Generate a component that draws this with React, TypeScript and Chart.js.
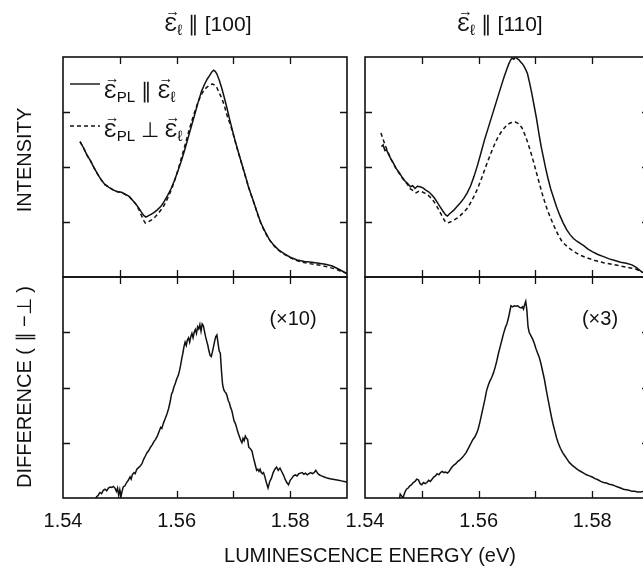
import React, { useEffect, useRef } from 'react';
import { Chart, registerables } from 'chart.js';

Chart.register(...registerables);

// ---------- axis ranges and ticks ----------
const X_MIN = 1.54;
const X_MAX = 1.59;
const Y_MIN = 0;
const Y_MAX = 4;
const xTickValues = [1.55, 1.56, 1.57, 1.58];
const xLabelValues = [1.54, 1.56, 1.58];
const xTickLabels = ['1.54', '1.56', '1.58'];
const yTickValues = [1, 2, 3];

// ---------- top-left: E_l || [100], intensity ----------
const tlParX = [1.5430,1.5436,1.5442,1.5448,1.5455,1.5461,1.5467,1.5474,1.5481,1.5489,1.5496,1.5503,1.5510,1.5516,1.5522,1.5528,1.5533,1.5538,1.5542,1.5546,1.5550,1.5555,1.5560,1.5566,1.5572,1.5578,1.5584,1.5590,1.5596,1.5602,1.5608,1.5614,1.5620,1.5626,1.5632,1.5638,1.5644,1.5649,1.5654,1.5658,1.5662,1.5665,1.5668,1.5671,1.5675,1.5679,1.5683,1.5688,1.5693,1.5698,1.5703,1.5709,1.5715,1.5721,1.5727,1.5734,1.5741,1.5748,1.5756,1.5764,1.5772,1.5780,1.5790,1.5800,1.5812,1.5825,1.5838,1.5850,1.5862,1.5874,1.5884,1.5893,1.5900];
const tlParY = [2.46,2.35,2.22,2.12,1.98,1.87,1.77,1.68,1.63,1.58,1.55,1.54,1.50,1.47,1.40,1.33,1.26,1.18,1.12,1.09,1.11,1.14,1.17,1.22,1.28,1.37,1.48,1.60,1.75,1.92,2.10,2.30,2.52,2.74,2.96,3.18,3.38,3.50,3.60,3.66,3.73,3.76,3.74,3.69,3.58,3.45,3.30,3.10,2.88,2.68,2.48,2.26,2.05,1.84,1.62,1.42,1.20,0.99,0.82,0.67,0.57,0.49,0.42,0.36,0.31,0.28,0.27,0.25,0.23,0.20,0.15,0.10,0.06];
const tlPerpX = [1.5430,1.5436,1.5442,1.5448,1.5455,1.5461,1.5467,1.5474,1.5481,1.5489,1.5496,1.5503,1.5510,1.5516,1.5522,1.5528,1.5533,1.5538,1.5542,1.5545,1.5550,1.5556,1.5562,1.5568,1.5574,1.5580,1.5586,1.5592,1.5598,1.5604,1.5610,1.5616,1.5622,1.5628,1.5634,1.5640,1.5646,1.5652,1.5658,1.5663,1.5667,1.5671,1.5675,1.5680,1.5685,1.5690,1.5695,1.5700,1.5706,1.5712,1.5718,1.5724,1.5731,1.5738,1.5745,1.5752,1.5760,1.5768,1.5776,1.5785,1.5795,1.5806,1.5818,1.5830,1.5842,1.5855,1.5867,1.5878,1.5888,1.5896,1.5900];
const tlPerpY = [2.46,2.35,2.22,2.12,1.98,1.87,1.77,1.68,1.63,1.58,1.55,1.54,1.50,1.47,1.40,1.33,1.24,1.12,1.03,0.98,1.00,1.04,1.09,1.16,1.24,1.34,1.47,1.62,1.80,2.00,2.22,2.44,2.67,2.88,3.07,3.24,3.36,3.44,3.49,3.51,3.49,3.44,3.35,3.24,3.08,2.90,2.76,2.58,2.36,2.15,1.94,1.73,1.50,1.29,1.07,0.89,0.73,0.61,0.52,0.44,0.38,0.32,0.28,0.25,0.23,0.21,0.18,0.15,0.11,0.08,0.06];

// ---------- top-right: E_l || [110], intensity ----------
const trParX = [1.5429,1.5432,1.5435,1.5438,1.5442,1.5446,1.5450,1.5455,1.5460,1.5465,1.5470,1.5475,1.5480,1.5484,1.5488,1.5492,1.5497,1.5502,1.5507,1.5512,1.5517,1.5522,1.5527,1.5532,1.5537,1.5542,1.5545,1.5550,1.5556,1.5562,1.5568,1.5574,1.5580,1.5586,1.5592,1.5598,1.5604,1.5610,1.5616,1.5622,1.5628,1.5634,1.5640,1.5645,1.5649,1.5653,1.5656,1.5659,1.5662,1.5665,1.5668,1.5671,1.5674,1.5677,1.5680,1.5683,1.5686,1.5690,1.5694,1.5698,1.5702,1.5706,1.5710,1.5714,1.5718,1.5722,1.5727,1.5732,1.5737,1.5743,1.5749,1.5755,1.5761,1.5767,1.5773,1.5779,1.5785,1.5792,1.5800,1.5810,1.5820,1.5830,1.5840,1.5850,1.5860,1.5870,1.5878,1.5885,1.5889];
const trParY = [2.37,2.40,2.30,2.31,2.22,2.14,2.07,1.97,1.90,1.82,1.75,1.70,1.64,1.66,1.61,1.65,1.64,1.62,1.58,1.55,1.50,1.44,1.36,1.28,1.20,1.13,1.11,1.16,1.21,1.28,1.35,1.43,1.53,1.66,1.83,2.03,2.25,2.48,2.68,2.88,3.08,3.28,3.48,3.64,3.76,3.87,3.94,3.98,3.96,4.00,3.97,3.95,3.91,3.88,3.83,3.77,3.70,3.52,3.32,3.10,2.88,2.62,2.38,2.18,1.98,1.80,1.60,1.44,1.28,1.12,0.98,0.86,0.77,0.70,0.65,0.61,0.57,0.51,0.46,0.41,0.37,0.33,0.30,0.27,0.25,0.22,0.17,0.11,0.08];
const trPerpX = [1.5428,1.5432,1.5436,1.5440,1.5445,1.5450,1.5455,1.5460,1.5465,1.5470,1.5475,1.5480,1.5485,1.5490,1.5495,1.5500,1.5506,1.5512,1.5518,1.5524,1.5530,1.5536,1.5541,1.5545,1.5550,1.5556,1.5562,1.5568,1.5574,1.5580,1.5586,1.5592,1.5598,1.5604,1.5610,1.5616,1.5622,1.5628,1.5634,1.5640,1.5646,1.5652,1.5658,1.5664,1.5670,1.5676,1.5681,1.5686,1.5691,1.5696,1.5701,1.5706,1.5711,1.5716,1.5721,1.5726,1.5731,1.5736,1.5741,1.5746,1.5752,1.5760,1.5768,1.5778,1.5790,1.5805,1.5820,1.5835,1.5850,1.5865,1.5878,1.5889];
const trPerpY = [2.62,2.50,2.38,2.28,2.16,2.06,1.96,1.89,1.81,1.74,1.68,1.60,1.57,1.53,1.56,1.55,1.52,1.48,1.42,1.33,1.22,1.10,1.01,0.98,1.00,1.03,1.07,1.12,1.18,1.25,1.35,1.47,1.60,1.76,1.93,2.10,2.26,2.41,2.54,2.64,2.72,2.78,2.81,2.82,2.79,2.72,2.60,2.46,2.30,2.12,1.93,1.74,1.55,1.38,1.22,1.09,0.97,0.85,0.75,0.66,0.59,0.52,0.46,0.40,0.35,0.30,0.26,0.23,0.20,0.17,0.14,0.08];

// ---------- bottom-left: difference (x10) ----------
const blDiffX = [1.5456,1.5459,1.5462,1.5465,1.5468,1.5471,1.5474,1.5477,1.5480,1.5483,1.5486,1.5489,1.5492,1.5494,1.5496,1.5498,1.5500,1.5502,1.5504,1.5506,1.5509,1.5512,1.5515,1.5518,1.5520,1.5522,1.5525,1.5527,1.5530,1.5533,1.5536,1.5539,1.5542,1.5545,1.5548,1.5551,1.5554,1.5557,1.5560,1.5563,1.5566,1.5569,1.5572,1.5574,1.5577,1.5580,1.5583,1.5586,1.5589,1.5591,1.5593,1.5595,1.5598,1.5600,1.5603,1.5605,1.5607,1.5609,1.5611,1.5613,1.5615,1.5617,1.5619,1.5621,1.5623,1.5625,1.5627,1.5629,1.5631,1.5633,1.5635,1.5637,1.5639,1.5641,1.5643,1.5645,1.5647,1.5649,1.5651,1.5653,1.5655,1.5657,1.5659,1.5661,1.5663,1.5665,1.5667,1.5669,1.5671,1.5673,1.5675,1.5677,1.5679,1.5681,1.5683,1.5685,1.5687,1.5689,1.5691,1.5693,1.5695,1.5697,1.5699,1.5701,1.5703,1.5705,1.5707,1.5709,1.5711,1.5713,1.5715,1.5717,1.5719,1.5721,1.5723,1.5725,1.5727,1.5729,1.5731,1.5733,1.5735,1.5737,1.5739,1.5741,1.5743,1.5745,1.5747,1.5749,1.5751,1.5753,1.5755,1.5758,1.5761,1.5764,1.5767,1.5770,1.5773,1.5776,1.5779,1.5782,1.5785,1.5788,1.5791,1.5794,1.5797,1.5800,1.5803,1.5806,1.5809,1.5812,1.5815,1.5818,1.5821,1.5824,1.5827,1.5830,1.5833,1.5836,1.5839,1.5842,1.5845,1.5848,1.5851,1.5855,1.5860,1.5865,1.5870,1.5875,1.5880,1.5885,1.5890,1.5895,1.5900];
const blDiffY = [-0.05,0.02,0.05,0.10,0.08,0.14,0.16,0.13,0.18,0.20,0.19,0.21,0.17,0.12,0.18,0.05,0.15,0.02,0.12,0.20,0.22,0.28,0.32,0.38,0.34,0.42,0.46,0.44,0.52,0.55,0.58,0.62,0.70,0.76,0.82,0.86,0.92,0.96,1.02,1.06,1.12,1.20,1.28,1.26,1.36,1.44,1.52,1.62,1.76,1.88,1.92,2.00,2.08,2.15,2.22,2.30,2.40,2.52,2.62,2.74,2.82,2.76,2.86,2.90,2.82,2.92,2.98,2.90,3.00,3.05,2.98,3.10,3.06,3.14,3.02,3.15,3.12,3.02,2.92,2.84,2.76,2.66,2.58,2.56,2.64,2.74,2.84,2.92,2.95,2.80,2.66,2.62,2.30,2.05,1.96,1.92,1.90,1.84,1.76,1.72,1.64,1.59,1.50,1.40,1.36,1.30,1.22,1.16,1.10,1.04,1.00,1.08,1.04,1.12,1.08,1.06,0.92,0.90,0.88,0.84,0.74,0.66,0.58,0.50,0.52,0.48,0.52,0.46,0.44,0.46,0.40,0.28,0.18,0.30,0.36,0.46,0.52,0.56,0.50,0.54,0.48,0.42,0.34,0.28,0.24,0.32,0.36,0.40,0.42,0.40,0.44,0.45,0.46,0.43,0.45,0.42,0.44,0.46,0.44,0.46,0.50,0.45,0.42,0.40,0.38,0.36,0.35,0.34,0.33,0.32,0.31,0.30,0.29];

// ---------- bottom-right: difference (x3) ----------
const brDiffX = [1.5460,1.5462,1.5465,1.5467,1.5470,1.5473,1.5476,1.5479,1.5482,1.5485,1.5488,1.5491,1.5494,1.5497,1.5500,1.5503,1.5506,1.5509,1.5512,1.5515,1.5518,1.5521,1.5524,1.5527,1.5530,1.5533,1.5536,1.5539,1.5542,1.5545,1.5548,1.5551,1.5554,1.5557,1.5560,1.5563,1.5566,1.5569,1.5572,1.5575,1.5578,1.5581,1.5584,1.5587,1.5590,1.5593,1.5596,1.5599,1.5602,1.5605,1.5608,1.5611,1.5614,1.5617,1.5620,1.5623,1.5626,1.5629,1.5632,1.5635,1.5638,1.5641,1.5644,1.5647,1.5650,1.5653,1.5655,1.5657,1.5660,1.5663,1.5666,1.5669,1.5672,1.5675,1.5677,1.5679,1.5681,1.5683,1.5685,1.5687,1.5689,1.5692,1.5695,1.5698,1.5701,1.5704,1.5707,1.5710,1.5713,1.5716,1.5719,1.5722,1.5725,1.5728,1.5731,1.5734,1.5737,1.5740,1.5744,1.5748,1.5752,1.5756,1.5760,1.5765,1.5770,1.5775,1.5780,1.5785,1.5790,1.5795,1.5800,1.5805,1.5810,1.5815,1.5820,1.5825,1.5830,1.5835,1.5840,1.5845,1.5850,1.5855,1.5860,1.5865,1.5870,1.5875,1.5880,1.5885,1.5890];
const brDiffY = [-0.05,0.07,0.03,0.00,0.10,0.16,0.18,0.22,0.24,0.28,0.30,0.34,0.33,0.26,0.24,0.28,0.26,0.28,0.32,0.30,0.34,0.38,0.40,0.44,0.42,0.46,0.48,0.46,0.47,0.45,0.48,0.53,0.57,0.60,0.62,0.66,0.68,0.71,0.74,0.78,0.82,0.88,0.94,1.00,1.06,1.10,1.16,1.24,1.36,1.50,1.64,1.78,1.94,2.04,2.12,2.18,2.26,2.36,2.48,2.62,2.74,2.86,2.98,3.08,3.16,3.28,3.38,3.48,3.46,3.48,3.47,3.48,3.45,3.44,3.46,3.42,3.50,3.56,3.40,3.10,3.00,2.94,2.88,2.80,2.70,2.62,2.54,2.42,2.28,2.14,1.96,1.80,1.64,1.48,1.34,1.22,1.10,1.00,0.90,0.82,0.76,0.70,0.64,0.59,0.55,0.51,0.48,0.45,0.42,0.40,0.38,0.35,0.33,0.30,0.28,0.27,0.25,0.24,0.22,0.20,0.18,0.16,0.15,0.14,0.12,0.12,0.11,0.11,0.12];

// ---------- layout (pixels) ----------
const PAD = 26;
const LABEL_SPACE = 40;
const PANEL_W = 284;
const LEFT_X = 63;
const RIGHT_X = 365;
const TOP_Y = 57;
const MID_Y = 277;
const BOT_Y = 498;
const FONT = '"Liberation Sans", Arial, Helvetica, sans-serif';
const INK = '#111';

type Series = { x: number[]; y: number[]; dashed?: boolean };

function toPoints(xs: number[], ys: number[]) {
  return xs.map((x, i) => ({ x, y: ys[i] }));
}

function Panel(props: { left: number; top: number; width: number; height: number; series: Series[]; labels: boolean }) {
  const { left, top, width, height, series, labels } = props;
  const ref = useRef<HTMLCanvasElement | null>(null);
  const extra = labels ? LABEL_SPACE : 0;

  useEffect(() => {
    const frame = {
      id: 'frame',
      afterDatasetsDraw(chart: any) {
        const { ctx, chartArea: a, scales } = chart;
        const xs = scales.x;
        const ys = scales.y;
        ctx.save();
        ctx.strokeStyle = INK;
        ctx.lineWidth = 1.6;
        ctx.setLineDash([]);
        ctx.strokeRect(a.left, a.top, a.right - a.left, a.bottom - a.top);
        ctx.lineWidth = 1.3;
        const T = 7;
        ctx.beginPath();
        for (const v of xTickValues) {
          const px = Math.round(xs.getPixelForValue(v)) + 0.5;
          ctx.moveTo(px, a.bottom);
          ctx.lineTo(px, a.bottom - T);
          ctx.moveTo(px, a.top);
          ctx.lineTo(px, a.top + T);
        }
        for (const v of yTickValues) {
          const py = Math.round(ys.getPixelForValue(v)) + 0.5;
          ctx.moveTo(a.left, py);
          ctx.lineTo(a.left + T, py);
          ctx.moveTo(a.right, py);
          ctx.lineTo(a.right - T, py);
        }
        ctx.stroke();
        if (labels) {
          ctx.fillStyle = INK;
          ctx.font = '20px ' + FONT;
          ctx.textAlign = 'center';
          ctx.textBaseline = 'alphabetic';
          xLabelValues.forEach((v, i) => {
            ctx.fillText(xTickLabels[i], xs.getPixelForValue(v), a.bottom + 29);
          });
        }
        ctx.restore();
      },
    };
    const chart = new Chart(ref.current as HTMLCanvasElement, {
      type: 'line',
      data: {
        datasets: series.map((s) => ({
          data: toPoints(s.x, s.y),
          borderColor: INK,
          borderWidth: 1.5,
          borderDash: s.dashed ? [4, 3] : [],
          pointRadius: 0,
          tension: 0,
          fill: false,
        })),
      },
      options: {
        animation: false,
        responsive: false,
        devicePixelRatio: 1,
        events: [],
        layout: { padding: { left: PAD, right: PAD, top: PAD, bottom: PAD + extra } },
        scales: {
          x: { type: 'linear', min: X_MIN, max: X_MAX, display: false },
          y: { type: 'linear', min: Y_MIN, max: Y_MAX, display: false },
        },
        plugins: { legend: { display: false }, tooltip: { enabled: false } },
      },
      plugins: [frame],
    } as any);
    return () => chart.destroy();
  }, []);

  return (
    <canvas
      ref={ref}
      width={width + 2 * PAD}
      height={height + 2 * PAD + extra}
      style={{ position: 'absolute', left: left - PAD, top: top - PAD }}
    />
  );
}

const Vec = ({ children }: { children: React.ReactNode }) => (
  <span style={{ position: 'relative', display: 'inline-block' }}>
    {children}
    <span style={{ position: 'absolute', left: '5%', top: '-0.55em', fontSize: '0.7em', lineHeight: 1 }}>→</span>
  </span>
);

const Sub = ({ children }: { children: React.ReactNode }) => (
  <span style={{ position: 'relative', top: '0.28em', fontSize: '0.72em' }}>{children}</span>
);

function Text(props: { cx: number; top: number; children: React.ReactNode; rotate?: boolean; w?: number; size?: number }) {
  const w = props.w ?? 300;
  return (
    <div
      style={{
        position: 'absolute',
        left: props.cx - w / 2,
        top: props.top,
        width: w,
        height: 24,
        lineHeight: '24px',
        fontSize: props.size ?? 20,
        fontFamily: FONT,
        color: INK,
        textAlign: 'center',
        whiteSpace: 'nowrap',
        transform: props.rotate ? 'rotate(-90deg)' : undefined,
      }}
    >
      {props.children}
    </div>
  );
}

const legendStyle: React.CSSProperties = {
  position: 'absolute',
  left: 104,
  lineHeight: '24px',
  fontSize: 21,
  fontFamily: FONT,
  color: INK,
  whiteSpace: 'nowrap',
};

export default function App() {
  const h = MID_Y - TOP_Y;
  const h2 = BOT_Y - MID_Y;
  return (
    <div style={{ position: 'absolute', left: 0, top: 0, width: 643, height: 571, overflow: 'hidden', background: '#fff' }}>
      <Panel left={LEFT_X} top={TOP_Y} width={PANEL_W} height={h} labels={false}
        series={[{ x: tlParX, y: tlParY }, { x: tlPerpX, y: tlPerpY, dashed: true }]} />
      <Panel left={RIGHT_X} top={TOP_Y} width={PANEL_W} height={h} labels={false}
        series={[{ x: trParX, y: trParY }, { x: trPerpX, y: trPerpY, dashed: true }]} />
      <Panel left={LEFT_X} top={MID_Y} width={PANEL_W} height={h2} labels={true}
        series={[{ x: blDiffX, y: blDiffY }]} />
      <Panel left={RIGHT_X} top={MID_Y} width={PANEL_W} height={h2} labels={true}
        series={[{ x: brDiffX, y: brDiffY }]} />

      {/* column titles */}
      <Text cx={208} top={12} size={21}><Vec>Ɛ</Vec><Sub>ℓ</Sub> ∥ [100]</Text>
      <Text cx={500} top={12} size={21}><Vec>Ɛ</Vec><Sub>ℓ</Sub> ∥ [110]</Text>

      {/* legend */}
      <svg style={{ position: 'absolute', left: 0, top: 0 }} width={120} height={140}>
        <line x1={70} y1={84} x2={100} y2={84} stroke={INK} strokeWidth={1.4} />
        <line x1={70} y1={126} x2={100} y2={126} stroke={INK} strokeWidth={1.4} strokeDasharray="4 3" />
      </svg>
      <div style={{ ...legendStyle, top: 79 }}>
        <Vec>Ɛ</Vec><Sub>PL</Sub> ∥ <Vec>Ɛ</Vec><Sub>ℓ</Sub>
      </div>
      <div style={{ ...legendStyle, top: 118 }}>
        <Vec>Ɛ</Vec><Sub>PL</Sub> ⊥ <Vec>Ɛ</Vec><Sub>ℓ</Sub>
      </div>

      {/* scale factors */}
      <Text cx={293} top={306} w={100}>(×10)</Text>
      <Text cx={600} top={306} w={100}>(×3)</Text>

      {/* axis titles */}
      <Text cx={24} top={160 - 12} rotate>INTENSITY</Text>
      <Text cx={24} top={387 - 12} rotate>DIFFERENCE ( ∥ −⊥ )</Text>
      <Text cx={370} top={543} w={400}>LUMINESCENCE ENERGY (eV)</Text>
    </div>
  );
}
